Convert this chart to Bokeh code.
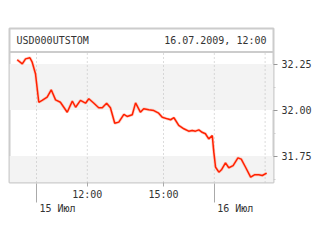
from bokeh.plotting import figure
from bokeh.models import (Range1d, LinearAxis, FixedTicker, BoxAnnotation, Label,
                          ColumnDataSource)
from bokeh.embed import file_html
from bokeh.resources import INLINE

# ---- data (trading hours from 15 Jul 10:00) ----
t_hours = [-0.76, -0.56, -0.43, -0.26, -0.17, -0.04, 0.09, 0.22, 0.42, 0.58,
           0.75, 0.94, 1.21, 1.41, 1.54, 1.73, 1.93, 2.06, 2.26, 2.45,
           2.59, 2.76, 2.91, 3.08, 3.24, 3.44, 3.57, 3.77, 3.90, 4.09,
           4.22, 4.42, 4.62, 4.81, 4.95, 5.15, 5.28, 5.41, 5.60, 5.80,
           5.99, 6.13, 6.26, 6.39, 6.52, 6.65, 6.78, 6.92, 6.98, 7.05,
           7.18, 7.28, 7.44, 7.57, 7.74, 7.93, 8.06, 8.23, 8.43, 8.58,
           8.75, 8.89, 9.06]
rate = [32.273, 32.251, 32.278, 32.284, 32.260, 32.197, 32.042, 32.052, 32.070, 32.110,
        32.055, 32.042, 31.988, 32.048, 32.015, 32.052, 32.037, 32.061, 32.037, 32.012,
        32.012, 32.037, 32.012, 31.928, 31.934, 31.976, 31.965, 31.974, 32.039, 31.988,
        32.007, 32.001, 31.997, 31.983, 31.961, 31.952, 31.947, 31.958, 31.916, 31.898,
        31.885, 31.889, 31.885, 31.892, 31.879, 31.871, 31.843, 31.861, 31.771, 31.689,
        31.662, 31.675, 31.713, 31.686, 31.698, 31.740, 31.733, 31.689, 31.635, 31.648,
        31.648, 31.644, 31.657]

y_ticks = [31.75, 32.00, 32.25]
y_labels = ["31.75", "32.00", "32.25"]
time_ticks = [2, 5]
time_labels = ["12:00", "15:00"]
day_ticks = [0, 7]
day_labels = ["15 Июл", "16 Июл"]
grid_x = [0, 2, 5, 7, 9]

ticker_name = "USD000UTSTOM"
stamp = "16.07.2009, 12:00"

FONT = "DejaVu Sans Mono"
TXT = "#333333"
BORDER = "#cccccc"
PX_PER_HOUR = 25.4
DAY_LABEL_SHIFT = (3 + 18) / PX_PER_HOUR   # labels start just right of the day tick

y_bottom, y_plot_top, y_top = 31.606, 32.315, 32.443
x_left, x_right = -1.063, 9.33

p = figure(width=320, height=240, output_backend="svg", toolbar_location=None,
           x_range=Range1d(x_left, x_right), y_range=Range1d(y_bottom, y_top),
           min_border_left=9, min_border_right=47, min_border_top=28,
           min_border_bottom=58, x_axis_location=None, y_axis_location=None)
p.background_fill_color = "white"
p.border_fill_color = "white"
p.outline_line_color = BORDER
p.outline_line_width = 2
p.xgrid.visible = False
p.ygrid.visible = False

# bands
p.add_layout(BoxAnnotation(bottom=32.00, top=32.25, fill_color="#f3f3f3", fill_alpha=1, line_color=None, level="underlay"))
p.add_layout(BoxAnnotation(bottom=y_bottom, top=31.75, fill_color="#f3f3f3", fill_alpha=1, line_color=None, level="underlay"))

# vertical dotted grid lines (plot area only)
p.segment(x0=grid_x, y0=[y_bottom] * len(grid_x), x1=grid_x, y1=[y_plot_top] * len(grid_x),
          line_color="#b8b8b8", line_width=1, line_dash="1 3")

# header separator
p.segment(x0=[x_left], y0=[y_plot_top], x1=[x_right], y1=[y_plot_top],
          line_color=BORDER, line_width=2)

# header texts
p.add_layout(Label(x=-0.787, y=32.378, text=ticker_name, text_font=FONT, text_font_size="10px",
                   text_color=TXT, text_baseline="middle", text_align="left"))
p.add_layout(Label(x=9.055, y=32.378, text=stamp, text_font=FONT, text_font_size="10px",
                   text_color=TXT, text_baseline="middle", text_align="right"))

# series line
src = ColumnDataSource(dict(t=t_hours, v=rate))
p.line("t", "v", source=src, line_color="#ffb0a0", line_width=3.0, line_alpha=0.6)
p.line("t", "v", source=src, line_color="#ff2000", line_width=1.5)

# right axis
ya = LinearAxis(ticker=FixedTicker(ticks=y_ticks, minor_ticks=[31.625, 31.875, 32.125]),
                major_label_overrides={k: v for k, v in zip(y_ticks, y_labels)})
ya.axis_line_color = None
ya.major_tick_in = 0
ya.major_tick_out = 4
ya.major_tick_line_color = "#999999"
ya.minor_tick_in = 0
ya.minor_tick_out = 2
ya.minor_tick_line_color = "#cccccc"
ya.major_label_standoff = 4
ya.major_label_text_font = FONT
ya.major_label_text_font_size = "10px"
ya.major_label_text_color = TXT
p.add_layout(ya, "right")

# time axis
xa = LinearAxis(ticker=FixedTicker(ticks=time_ticks, minor_ticks=[]),
                major_label_overrides={k: v for k, v in zip(time_ticks, time_labels)})
xa.axis_line_color = None
xa.major_tick_in = 0
xa.major_tick_out = 4
xa.major_tick_line_color = "#aaaaaa"
xa.major_label_standoff = 2
xa.major_label_text_font = FONT
xa.major_label_text_font_size = "10px"
xa.major_label_text_color = TXT
p.add_layout(xa, "below")

# day boundary ticks (long)
dt = LinearAxis(ticker=FixedTicker(ticks=day_ticks, minor_ticks=[]),
                major_label_overrides={k: "" for k in day_ticks})
dt.axis_line_color = None
dt.major_tick_in = 19
dt.major_tick_out = 0
dt.major_tick_line_color = "#aaaaaa"
dt.major_label_standoff = 0
dt.major_label_text_font_size = "1px"
p.add_layout(dt, "below")

# day labels (placed just right of the day ticks)
day_label_pos = [d + DAY_LABEL_SHIFT for d in day_ticks]
da = LinearAxis(ticker=FixedTicker(ticks=day_label_pos, minor_ticks=[]),
                major_label_overrides={k: v for k, v in zip(day_label_pos, day_labels)})
da.axis_line_color = None
da.major_tick_line_color = None
da.major_tick_in = 0
da.major_tick_out = 0
da.major_label_standoff = 0
da.major_label_text_font = FONT
da.major_label_text_font_size = "10px"
da.major_label_text_color = TXT
p.add_layout(da, "below")

open("out.html", "w").write(file_html(p, INLINE))
